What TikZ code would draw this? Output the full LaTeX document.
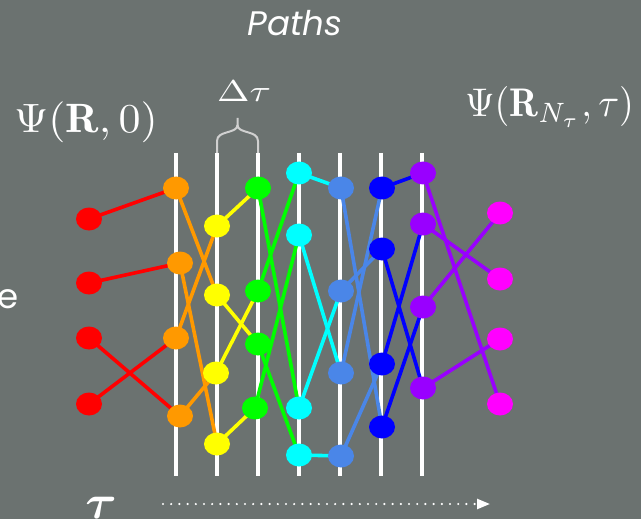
\documentclass[tikz,border=0pt]{standalone}
\usepackage{amsmath,amssymb}
\usepackage{fontspec}
\newfontfamily\poppins{Poppins}
\usetikzlibrary{shapes.geometric,arrows.meta}
\definecolor{bgc}{HTML}{6B7270}
\definecolor{cred}{HTML}{FF0000}
\definecolor{corange}{HTML}{FF9900}
\definecolor{cyellow}{HTML}{FFFF00}
\definecolor{cgreen}{HTML}{00FF00}
\definecolor{ccyan}{HTML}{00FFFF}
\definecolor{clblue}{HTML}{4A86E8}
\definecolor{cblue}{HTML}{0000FF}
\definecolor{cpurple}{HTML}{9900FF}
\definecolor{cmagenta}{HTML}{FF00FF}
\definecolor{bracegray}{HTML}{D0D0D0}
\pgfdeclarelayer{bglayer}
\pgfdeclarelayer{edgelayer}
\pgfsetlayers{bglayer,edgelayer,main}
\tikzset{
  walker/.style={ellipse, fill=#1, draw=none, inner sep=0pt, minimum width=26pt, minimum height=23pt},
  link/.style={draw=#1, line width=3.6pt},
  slice/.style={draw=white, line width=3.4pt},
  lbl/.style={text=white, inner sep=0pt},
  taxis/.style={draw=white, line width=2.4pt, line cap=round, dash pattern=on 0pt off 8.2pt, -{Triangle[length=13pt,width=10pt,line cap=butt]}},
}
\begin{document}
\begin{tikzpicture}[x=1pt,y=-1pt]
\begin{pgfonlayer}{bglayer}
\fill[bgc] (0,0) rectangle (641,519);
\end{pgfonlayer}
\useasboundingbox (0,0) rectangle (641,519);

% time slice lines
\foreach \i/\xx in {1/176,2/217,3/258,4/299,5/340,6/381,7/422}{
  \coordinate (st\i) at (\xx,153);
  \coordinate (sb\i) at (\xx,476);
}
\begin{pgfonlayer}{bglayer}
\foreach \i in {1,...,7}{ \path[slice] (st\i) -- (sb\i); }
\end{pgfonlayer}

% nodes
\node[walker=cred] (r1) at (89,219) {};
\node[walker=cred] (r2) at (89,283) {};
\node[walker=cred] (r3) at (89,338) {};
\node[walker=cred] (r4) at (89,404) {};
\node[walker=corange] (o1) at (176,188) {};
\node[walker=corange] (o2) at (180,263) {};
\node[walker=corange] (o3) at (176,338) {};
\node[walker=corange] (o4) at (180,416) {};
\node[walker=cyellow] (y1) at (217,226) {};
\node[walker=cyellow] (y2) at (217,295) {};
\node[walker=cyellow] (y3) at (216,373) {};
\node[walker=cyellow] (y4) at (217,444) {};
\node[walker=cgreen] (g1) at (258,188) {};
\node[walker=cgreen] (g2) at (258,291) {};
\node[walker=cgreen] (g3) at (258,344) {};
\node[walker=cgreen] (g4) at (255,408) {};
\node[walker=ccyan] (c1) at (299,173) {};
\node[walker=ccyan] (c2) at (299,235) {};
\node[walker=ccyan] (c3) at (299,408) {};
\node[walker=ccyan] (c4) at (299,455) {};
\node[walker=clblue] (l1) at (341,188) {};
\node[walker=clblue] (l2) at (341,291) {};
\node[walker=clblue] (l3) at (341,373) {};
\node[walker=clblue] (l4) at (341,456) {};
\node[walker=cblue] (b1) at (382,188) {};
\node[walker=cblue] (b2) at (382,249) {};
\node[walker=cblue] (b3) at (382,364) {};
\node[walker=cblue] (b4) at (382,427) {};
\node[walker=cpurple] (p1) at (423,173) {};
\node[walker=cpurple] (p2) at (423,224) {};
\node[walker=cpurple] (p3) at (423,307) {};
\node[walker=cpurple] (p4) at (423,388) {};
\node[walker=cmagenta] (m1) at (500,213) {};
\node[walker=cmagenta] (m2) at (500,279) {};
\node[walker=cmagenta] (m3) at (500,339) {};
\node[walker=cmagenta] (m4) at (500,404) {};

% connectors
\begin{pgfonlayer}{edgelayer}
\foreach \a/\b in {r1/o1,r2/o2,r3/o4,r4/o3}{\path[link=cred] (\a.center) -- (\b.center);}
\foreach \a/\b in {o1/y2,o2/y4,o3/y1,o4/y3}{\path[link=corange] (\a.center) -- (\b.center);}
\foreach \a/\b in {y1/g1,y2/g3,y3/g2,y4/g4}{\path[link=cyellow] (\a.center) -- (\b.center);}
\foreach \a/\b in {g1/c3,g2/c1,g3/c4,g4/c2}{\path[link=cgreen] (\a.center) -- (\b.center);}
\foreach \a/\b in {c1/l1,c2/l3,c3/l2,c4/l4}{\path[link=ccyan] (\a.center) -- (\b.center);}
\foreach \a/\b in {l1/b4,l2/b2,l3/b1,l4/b3}{\path[link=clblue] (\a.center) -- (\b.center);}
\foreach \a/\b in {b1/p1,b2/p4,b3/p2,b4/p3}{\path[link=cblue] (\a.center) -- (\b.center);}
\foreach \a/\b in {p1/m4,p2/m2,p3/m1,p4/m3}{\path[link=cpurple] (\a.center) -- (\b.center);}
\end{pgfonlayer}

% brace over one time step
\coordinate (brl) at (217,153);
\coordinate (brr) at (258,153);
\coordinate (brt) at (237.5,118);
\draw[bracegray, line width=2pt] (brl) -- (217,141) .. controls (217,130) and (237.5,134) .. (237.5,125) -- (brt);
\draw[bracegray, line width=2pt] (brr) -- (258,141) .. controls (258,130) and (237.5,134) .. (237.5,125);

% labels
\node[lbl, anchor=base] (paths) at (295,36) {\fontsize{34}{40}\selectfont\poppins\itshape Paths};
\node[lbl, anchor=base east] (e) at (19,308) {\fontsize{34}{40}\selectfont\poppins e};
\node[lbl, anchor=base west] (psi0) at (14,132) {\scalebox{4.4}[4.1]{$\Psi(\mathbf{R},0)$}};
\node[lbl, anchor=base west] (psit) at (465,117) {\scalebox{3.8}[4.0]{$\Psi(\mathbf{R}_{N_\tau},\tau)$}};
\node[lbl, anchor=base west] (dtau) at (217,102) {\scalebox{3.9}[3.0]{$\Delta\tau$}};
\node[lbl, anchor=north] (tau) at (101,497) {\scalebox{4.8}{$\boldsymbol{\tau}$}};

% time arrow
\coordinate (ta) at (163,504);
\coordinate (tb) at (490,504);
\path[taxis] (ta) -- (tb);
\end{tikzpicture}
\end{document}
